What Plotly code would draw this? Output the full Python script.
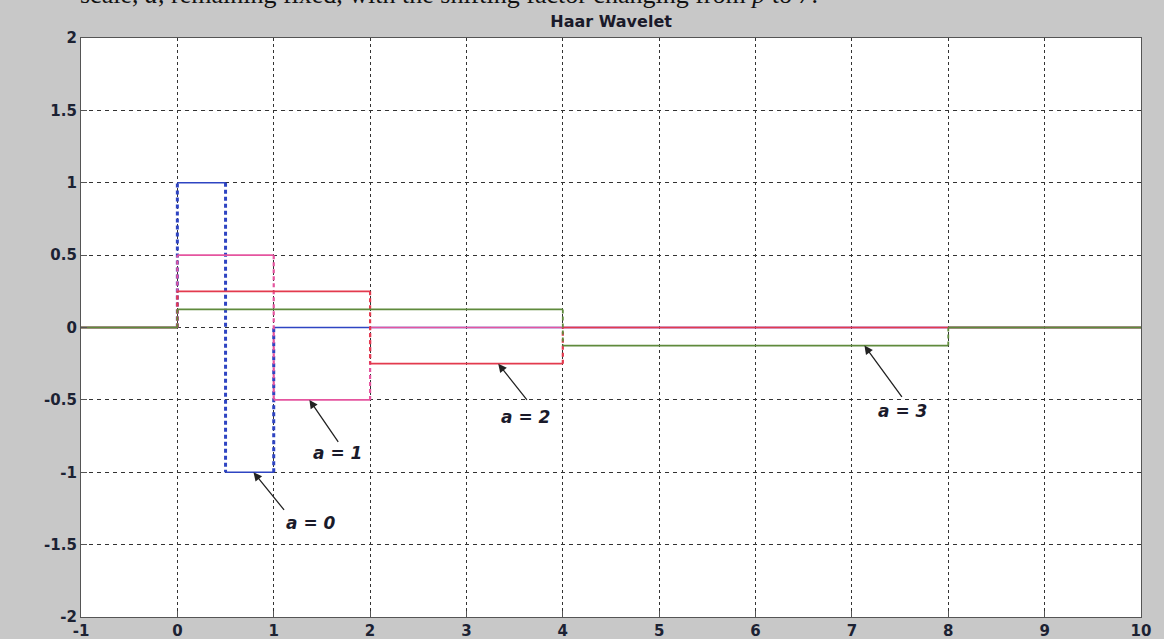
import plotly.graph_objects as go

# Haar wavelet at scales a = 0..3 (step functions: breakpoints and level on each interval)
a0_x = [-1, 0, 0.5, 1, 10]
a0_y = [0, 1, -1, 0]
a1_x = [-1, 0, 1, 2, 10]
a1_y = [0, 0.5, -0.5, 0]
a2_x = [-1, 0, 2, 4, 10]
a2_y = [0, 0.25, -0.25, 0]
a3_x = [-1, 0, 4, 8, 10]
a3_y = [0, 0.125, -0.125, 0]

x_ticks = [-1, 0, 1, 2, 3, 4, 5, 6, 7, 8, 9, 10]
y_ticks = [-2, -1.5, -1, -0.5, 0, 0.5, 1, 1.5, 2]
y_tick_text = ["-2", "-1.5", "-1", "-0.5", "0", "0.5", "1", "1.5", "2"]

# (x, y, colour, width of jumps, width of levels)
series = [
    (a0_x, a0_y, "#2e44c2", 3.0, 1.5),
    (a1_x, a1_y, "#e5559f", 2.2, 1.6),
    (a2_x, a2_y, "#e33a4e", 2.2, 1.7),
    (a3_x, a3_y, "#5f8a3c", 1.8, 1.9),
]


def step_segments(xs, ys):
    """Split a step function into horizontal runs and vertical jumps."""
    hx, hy, vx, vy = [], [], [], []
    for i, level in enumerate(ys):
        hx += [xs[i], xs[i + 1], None]
        hy += [level, level, None]
    for i in range(1, len(ys)):
        vx += [xs[i], xs[i], None]
        vy += [ys[i - 1], ys[i], None]
    return hx, hy, vx, vy


fig = go.Figure()
for xs, ys, color, vwidth, hwidth in series:
    hx, hy, vx, vy = step_segments(xs, ys)
    fig.add_trace(go.Scatter(x=vx, y=vy, mode="lines", showlegend=False,
                             line=dict(color=color, width=vwidth, dash="4px,3px")))
    fig.add_trace(go.Scatter(x=hx, y=hy, mode="lines", showlegend=False,
                             line=dict(color=color, width=hwidth)))

label_font = dict(family="DejaVu Sans", size=17, color="#1a1a2a")
labels = [
    # (value a, text x, text y, arrow tail x, tail y, head x, head y)
    (0, 1.39, -1.35, 1.12, -1.27, 0.79, -1.0),
    (1, 1.66, -0.87, 1.68, -0.80, 1.37, -0.5),
    (2, 3.61, -0.62, 3.64, -0.51, 3.33, -0.25),
    (3, 7.53, -0.58, 7.53, -0.49, 7.13, -0.125),
]
for a, tx, ty, ax, ay, hx, hy in labels:
    fig.add_annotation(x=hx, y=hy, ax=ax, ay=ay, xref="x", yref="y",
                       axref="x", ayref="y", text="", showarrow=True,
                       arrowhead=2, arrowsize=1.3, arrowwidth=1.3,
                       arrowcolor="#222222")
    fig.add_annotation(x=tx, y=ty, xref="x", yref="y",
                       text=f"<b><i>a = {a}</i></b>",
                       showarrow=False, font=label_font)

# running text of the page above the figure
fig.add_annotation(
    x=-0.003, y=1.046, xref="paper", yref="paper", xanchor="left",
    yanchor="bottom", showarrow=False, align="left",
    text="scale, <i>a</i>, remaining fixed, with the shifting factor changing from <i>p</i> to <i>7</i>.",
    font=dict(family="Liberation Serif, Times New Roman", size=26, color="#111111"),
)

tick_font = dict(family="DejaVu Sans", size=15, color="#1c2233")
fig.update_layout(
    width=1164, height=639,
    margin=dict(l=81, r=23, t=38, b=22),
    paper_bgcolor="#c8c8c8", plot_bgcolor="#ffffff",
    title=dict(text="<b>Haar Wavelet</b>", x=0.525, xanchor="center",
               y=0.966, yanchor="middle",
               font=dict(family="DejaVu Sans", size=16, color="#1a1a2a")),
    showlegend=False,
)
fig.update_xaxes(
    range=[-1, 10], tickvals=x_ticks, ticktext=[f"<b>{v}</b>" for v in x_ticks],
    showgrid=True, gridcolor="#333333", gridwidth=1, griddash="dot",
    showline=True, linecolor="#555555", linewidth=1.2, mirror=True,
    ticks="inside", ticklen=6, tickcolor="#555555", tickfont=tick_font,
    zeroline=False, automargin=False,
)
fig.update_yaxes(
    range=[-2, 2], tickvals=y_ticks, ticktext=[f"<b>{t}</b>" for t in y_tick_text],
    showgrid=True, gridcolor="#333333", gridwidth=1, griddash="4px,4px",
    showline=True, linecolor="#555555", linewidth=1.2, mirror=True,
    ticks="inside", ticklen=6, tickcolor="#555555", tickfont=tick_font,
    zeroline=False, automargin=False,
)

fig.write_html("out.html")
